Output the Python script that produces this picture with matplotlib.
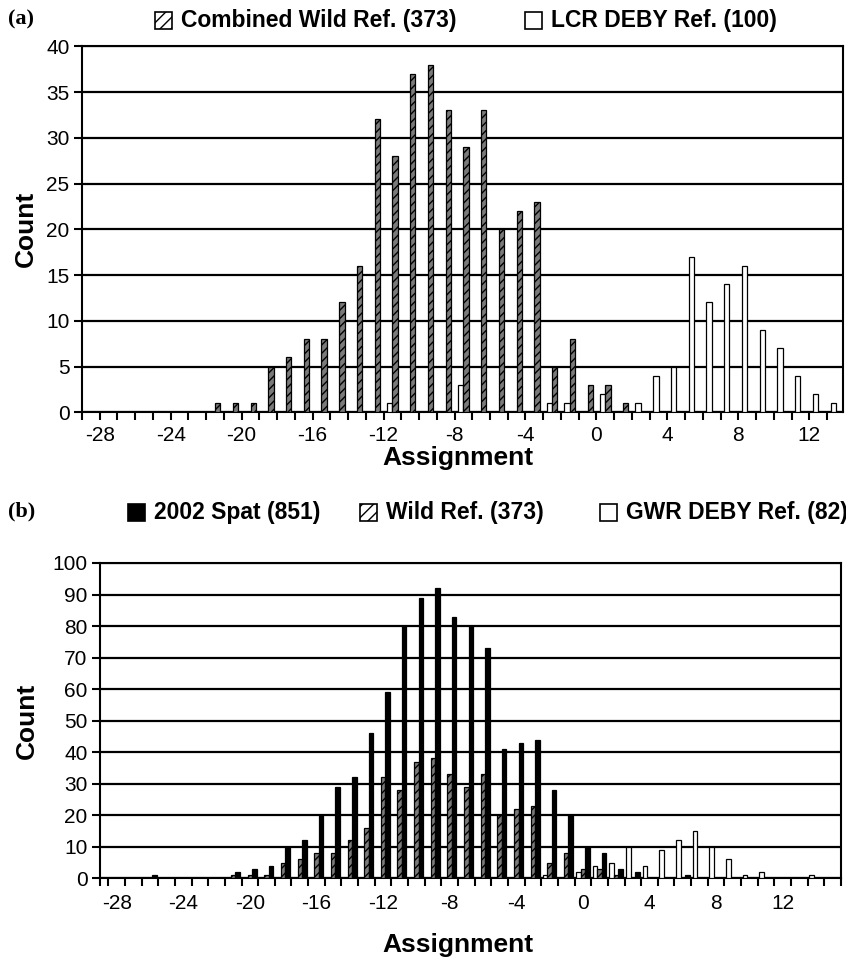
import numpy as np
import matplotlib
matplotlib.use('Agg')
import matplotlib.pyplot as plt
from matplotlib.patches import Rectangle
from matplotlib import font_manager

# panel (a): assignment bins and counts
wild_bins = list(range(-21, 3))
wild_counts = [1, 1, 1, 5, 6, 8, 8, 12, 16, 32, 28, 37, 38, 33, 29, 33, 20, 22, 23, 5, 8, 3, 3, 1]
lcr_bins = [-11, -7, -2, -1, 1, 3, 4, 5, 6, 7, 8, 9, 10, 11, 12, 13, 14]
lcr_counts = [1, 3, 1, 1, 2, 1, 4, 5, 17, 12, 14, 16, 9, 7, 4, 2, 1]

# panel (b)
spat_bins = [-26, -21, -20, -19, -18, -17, -16, -15, -14, -13, -12, -11, -10, -9,
             -8, -7, -6, -5, -4, -3, -2, -1, 0, 1, 2, 3, 6]
spat_counts = [1, 2, 3, 4, 10, 12, 20, 29, 32, 46, 59, 80, 89, 92,
               83, 80, 73, 41, 43, 44, 28, 20, 10, 8, 3, 2, 1]
gwr_bins = [-2, 0, 1, 2, 3, 4, 5, 6, 7, 8, 9, 10, 11, 14]
gwr_counts = [1, 2, 4, 5, 10, 4, 9, 12, 15, 10, 6, 1, 2, 1]

x_labels = list(range(-28, 13, 4))

plt.rcParams['font.family'] = 'Liberation Sans'
plt.rcParams['hatch.linewidth'] = 1.0

names = {f.name for f in font_manager.fontManager.ttflist}
if 'Liberation Sans Narrow' in names:
    leg_font, leg_size = 'Liberation Sans Narrow', 20
else:
    leg_font, leg_size = 'Liberation Sans', 16.5

W, H = 846, 960
fig = plt.figure(figsize=(W / 100, H / 100), dpi=100)

ax_a = fig.add_axes([82 / W, 1 - 412.3 / H, 761 / W, 366 / H])
ax_b = fig.add_axes([100 / W, 1 - 878.3 / H, 741 / W, 315.3 / H])

GREY = '#7a7a7a'

# --- panel a: bars sit between integer ticks
wa = 0.3
ax_a.bar(np.array(lcr_bins) - 0.5 - wa / 2, lcr_counts, width=wa, color='white',
         edgecolor='black', lw=0.9, zorder=3)
ax_a.bar(np.array(wild_bins) - 0.5 + wa / 2, wild_counts, width=wa, color=GREY,
         edgecolor='black', hatch='////', lw=0.9, zorder=3)
ax_a.set_xlim(-29, 13.9)
ax_a.set_ylim(0, 40)
ax_a.set_yticks(range(0, 41, 5))
ticks_a = list(range(-29, 14))
ax_a.set_xticks(ticks_a)
ax_a.set_xticklabels([str(t) if t in x_labels else '' for t in ticks_a])

# --- panel b: three bars per category, labels at category centres
wb = 0.27
ax_b.bar(np.array(gwr_bins) - wb, gwr_counts, width=wb, color='white',
         edgecolor='black', lw=0.9, zorder=3)
ax_b.bar(np.array(wild_bins), wild_counts, width=wb, color=GREY,
         edgecolor='black', hatch='////', lw=0.9, zorder=3)
ax_b.bar(np.array(spat_bins) + wb, spat_counts, width=wb, color='black',
         edgecolor='black', lw=0.9, zorder=3)
ax_b.set_xlim(-29, 15.5)
ax_b.set_ylim(0, 100)
ax_b.set_yticks(range(0, 101, 10))
ax_b.set_xticks(x_labels)
ax_b.set_xticklabels([str(t) for t in x_labels])
ax_b.set_xticks([-29] + list(np.arange(-28.5, 15.6, 1.0)), minor=True)

for ax in (ax_a, ax_b):
    ax.yaxis.grid(True, color='black', lw=1.6)
    ax.set_axisbelow(True)
    for s in ax.spines.values():
        s.set_linewidth(1.5)
    ax.tick_params(axis='both', direction='out', length=6, width=1.5, labelsize=15)
    ax.tick_params(axis='y', pad=3)
    ax.set_ylabel('Count', fontsize=19, fontweight='bold')
    ax.set_xlabel('Assignment', fontsize=19, fontweight='bold')
ax_a.tick_params(axis='x', pad=4)
ax_b.tick_params(axis='x', which='major', length=0, pad=11)
ax_b.tick_params(axis='x', which='minor', direction='out', length=6, width=1.5)

ax_a.yaxis.set_label_coords(-0.058, 0.5)
ax_a.xaxis.set_label_coords(0.494, -0.093)
ax_b.yaxis.set_label_coords(-0.082, 0.5)
ax_b.xaxis.set_label_coords(0.483, -0.174)


def legend_item(x, y, label, **kw):
    fig.patches.append(Rectangle((x / W, 1 - (y + 9) / H), 17 / W, 17 / H,
                                 transform=fig.transFigure, lw=1.2,
                                 edgecolor='black', **kw))
    fig.text((x + 26) / W, 1 - y / H, label, va='center', ha='left',
             fontfamily=leg_font, fontsize=leg_size, fontweight='bold')


fig.text(8 / W, 1 - 19 / H, '(a)', fontfamily='Liberation Serif',
         fontweight='bold', fontsize=16, va='center')
legend_item(155, 20, 'Combined Wild Ref. (373)', facecolor='white', hatch='///')
legend_item(525, 20, 'LCR DEBY Ref. (100)', facecolor='white')

fig.text(8 / W, 1 - 511 / H, '(b)', fontfamily='Liberation Serif',
         fontweight='bold', fontsize=16, va='center')
legend_item(128, 512, '2002 Spat (851)', facecolor='black')
legend_item(360, 512, 'Wild Ref. (373)', facecolor='white', hatch='///')
legend_item(600, 512, 'GWR DEBY Ref. (82)', facecolor='white')

fig.savefig('out.png', dpi=100)
